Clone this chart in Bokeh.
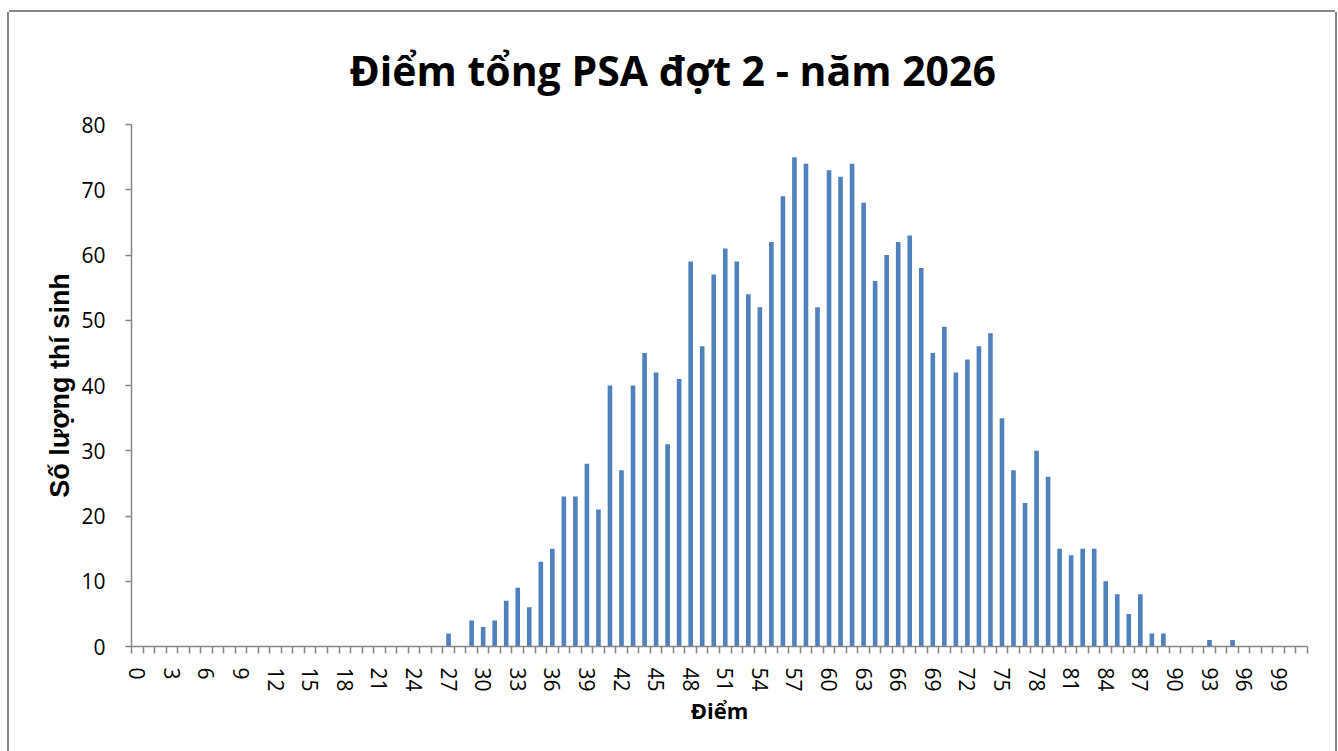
from bokeh.plotting import figure
from bokeh.models import Range1d, FixedTicker, SingleIntervalTicker
from bokeh.embed import file_html
from bokeh.resources import INLINE

# ---- data ----
scores = list(range(0, 102))
counts = [0] * 27 + [
    2, 0, 4, 3, 4, 7, 9, 6, 13, 15,        # 27-36
    23, 23, 28, 21, 40, 27, 40, 45, 42, 31,  # 37-46
    41, 59, 46, 57, 61, 59, 54, 52, 62, 69,  # 47-56
    75, 74, 52, 73, 72, 74, 68, 56, 60, 62,  # 57-66
    63, 58, 45, 49, 42, 44, 46, 48, 35, 27,  # 67-76
    22, 30, 26, 15, 14, 15, 15, 10, 8, 5,    # 77-86
    8, 2, 2, 0, 0, 0, 1, 0, 1, 0,            # 87-96
    0, 0, 0, 0, 0,                           # 97-101
]
x_tick_labels = list(range(0, 100, 3))
title_text = "Điểm tổng PSA đợt 2 - năm 2026"
x_label = "Điểm"
y_label = "Số lượng thí sinh"

BAR = "#4F81BD"
AXIS = "#868686"

p = figure(width=1326, height=739, output_backend="svg", toolbar_location=None,
           x_range=Range1d(-0.5, 101.5), y_range=Range1d(0, 80),
           min_border_left=122, min_border_right=28, min_border_top=112, min_border_bottom=105,
           title=title_text)
p.margin = (12, 0, 0, 9)
p.outline_line_color = None
p.xgrid.visible = False
p.ygrid.visible = False
p.background_fill_color = "white"
p.border_fill_color = "white"
p.styles = {"box-shadow": "-2px 0 0 0 #868686, 2px 0 0 0 #868686, 0 -2px 0 0 #868686"}

p.title.align = "left"
p.title.offset = 218
p.title.standoff = 54
p.title.text_font = "Open Sans"
p.title.text_font_style = "bold"
p.title.text_font_size = "41px"
p.title.text_color = "black"

p.vbar(x=scores, top=counts, width=0.4, fill_color=BAR, line_color=None)

# x axis
xa = p.xaxis[0]
xa.ticker = FixedTicker(ticks=x_tick_labels, minor_ticks=[i - 0.5 for i in range(0, 103)])
xa.major_tick_out = 0
xa.major_tick_in = 0
xa.minor_tick_out = 7
xa.minor_tick_in = 0
xa.minor_tick_line_color = AXIS
xa.minor_tick_line_width = 1.5
xa.axis_line_color = AXIS
xa.axis_line_width = 1.5
xa.major_label_orientation = "vertical"
xa.major_label_text_font = "Open Sans"
xa.major_label_text_font_size = "21px"
xa.major_label_text_color = "black"
xa.major_label_standoff = 14
xa.axis_label = x_label
xa.axis_label_text_font = "Open Sans"
xa.axis_label_text_font_style = "bold"
xa.axis_label_text_font_size = "22px"
xa.axis_label_text_color = "black"
xa.axis_label_standoff = 0

# y axis
ya = p.yaxis[0]
ya.ticker = SingleIntervalTicker(interval=10)
ya.minor_tick_line_color = None
ya.major_tick_out = 6
ya.major_tick_in = 0
ya.major_tick_line_color = AXIS
ya.major_tick_line_width = 1.5
ya.axis_line_color = AXIS
ya.axis_line_width = 1.5
ya.major_label_text_font = "Open Sans"
ya.major_label_text_font_size = "21px"
ya.major_label_text_color = "black"
ya.major_label_standoff = 20
ya.axis_label = y_label
ya.axis_label_text_font = "Liberation Sans"
ya.axis_label_text_font_style = "bold"
ya.axis_label_text_font_size = "27px"
ya.axis_label_text_color = "black"
ya.axis_label_standoff = 3

open("out.html", "w").write(file_html(p, INLINE))
